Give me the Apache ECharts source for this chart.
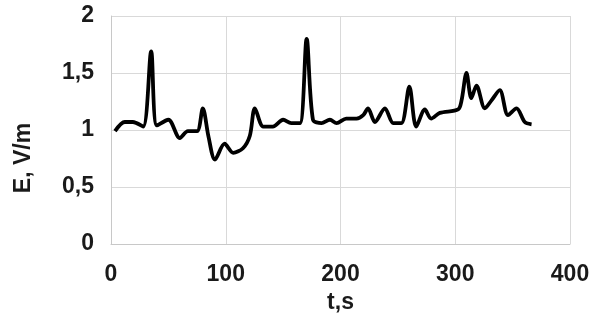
<!DOCTYPE html>
<html><head><meta charset="utf-8">
<script src="https://cdn.jsdelivr.net/npm/echarts@6/dist/echarts.min.js"></script>
<style>html,body{margin:0;padding:0;background:#fff}#c{width:603px;height:327px}</style>
</head><body><div id="c"></div>
<script>
const tValues = [3.5, 12, 19, 28, 35, 40, 50, 60, 67, 75, 80, 85, 90.6, 99, 106.5, 115, 121, 125.4, 132.7, 141, 150, 157, 164.6, 170.5, 176, 183.5, 190.8, 196.6, 205, 214, 219.8, 224, 230, 238.7, 246, 253, 260, 266, 273.5, 279, 286.6, 302.5, 305.5, 309.8, 314, 318.5, 325.8, 331.6, 338.8, 346, 353.4, 360.6, 366.5];
const eValues = [0.99, 1.07, 1.07, 1.03, 1.69, 1.04, 1.09, 0.93, 0.99, 0.99, 1.19, 0.94, 0.74, 0.88, 0.80, 0.84, 0.95, 1.19, 1.03, 1.03, 1.09, 1.06, 1.06, 1.80, 1.09, 1.06, 1.09, 1.06, 1.10, 1.10, 1.13, 1.19, 1.07, 1.19, 1.06, 1.06, 1.38, 1.03, 1.18, 1.10, 1.15, 1.18, 1.26, 1.50, 1.28, 1.39, 1.19, 1.26, 1.35, 1.13, 1.19, 1.07, 1.05];
const xName = 't,s';
const yName = 'E, V/m';

const chart = echarts.init(document.getElementById('c'), null, {renderer: 'canvas'});
const labelStyle = {color: '#1a1a1a', fontFamily: 'Liberation Sans, Arial, sans-serif', fontWeight: 'bold', fontSize: 23};
chart.setOption({
  animation: false,
  grid: {left: 111, right: 33, top: 16, bottom: 83},
  xAxis: {
    type: 'value', min: 0, max: 400, interval: 100,
    name: xName, nameLocation: 'middle', nameGap: 37,
    nameTextStyle: labelStyle,
    axisLine: {show: true, lineStyle: {color: '#c8c8c8', width: 1}},
    axisTick: {show: false},
    axisLabel: Object.assign({margin: 19}, labelStyle),
    splitLine: {show: true, lineStyle: {color: '#d9d9d9', width: 1}}
  },
  yAxis: {
    type: 'value', min: 0, max: 2, interval: 0.5,
    name: yName, nameLocation: 'middle', nameGap: 76,
    nameTextStyle: Object.assign({padding: [0, 56, 0, 0]}, labelStyle),
    axisLine: {show: true, lineStyle: {color: '#c8c8c8', width: 1}},
    axisTick: {show: false},
    axisLabel: Object.assign({margin: 17, formatter: v => String(v).replace('.', ',')}, labelStyle),
    splitLine: {show: true, lineStyle: {color: '#d9d9d9', width: 1}}
  },
  series: [{
    type: 'line',
    data: tValues.map((t, i) => [t, eValues[i]]),
    smooth: 0.3,
    symbol: 'none',
    lineStyle: {color: '#000', width: 3.8}
  }]
});
</script></body></html>
